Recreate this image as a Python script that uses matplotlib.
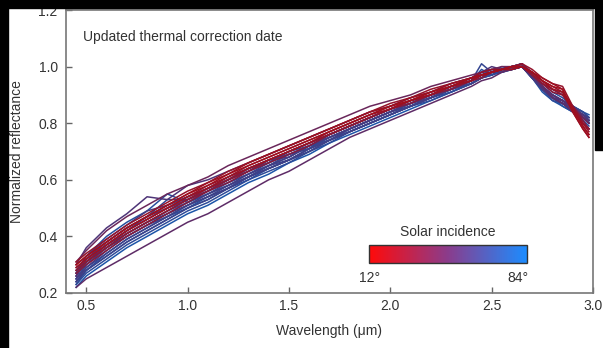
import numpy as np
import matplotlib
matplotlib.use("Agg")
import matplotlib.pyplot as plt
from matplotlib.colors import LinearSegmentedColormap, Normalize
from matplotlib.cm import ScalarMappable
from matplotlib.patches import Rectangle

plt.rcParams['font.family'] = ['Liberation Sans', 'DejaVu Sans']

# wavelength grid (um)
wavelength = [0.45, 0.5, 0.6, 0.7, 0.8, 0.9, 1.0, 1.1, 1.2, 1.3, 1.4, 1.5, 1.6, 1.7, 1.8, 1.9,
              2.0, 2.1, 2.2, 2.3, 2.4, 2.45, 2.5, 2.55, 2.6, 2.65, 2.7, 2.75, 2.8, 2.85, 2.9, 2.95, 2.98]

# normalized spectra, one per solar incidence angle
s12 = [0.30, 0.33, 0.38, 0.43, 0.47, 0.51, 0.55, 0.58, 0.62, 0.65, 0.68, 0.71, 0.74, 0.77, 0.80, 0.83,
       0.86, 0.88, 0.91, 0.93, 0.96, 0.97, 0.98, 0.99, 1.00, 1.00, 0.98, 0.95, 0.93, 0.92, 0.85, 0.79, 0.76]
s14 = [0.30, 0.33, 0.38, 0.43, 0.47, 0.51, 0.55, 0.59, 0.62, 0.66, 0.69, 0.72, 0.75, 0.78, 0.81, 0.84,
       0.86, 0.89, 0.91, 0.94, 0.96, 0.97, 0.98, 0.99, 1.00, 1.00, 0.98, 0.96, 0.94, 0.92, 0.84, 0.78, 0.75]
s15 = [0.29, 0.32, 0.37, 0.42, 0.46, 0.50, 0.54, 0.57, 0.61, 0.64, 0.67, 0.70, 0.73, 0.77, 0.80, 0.83,
       0.85, 0.88, 0.90, 0.93, 0.95, 0.97, 0.98, 0.99, 0.99, 1.00, 0.98, 0.95, 0.92, 0.91, 0.84, 0.78, 0.75]
s18 = [0.31, 0.34, 0.39, 0.44, 0.48, 0.52, 0.56, 0.59, 0.63, 0.66, 0.69, 0.72, 0.75, 0.78, 0.81, 0.84,
       0.87, 0.89, 0.92, 0.94, 0.96, 0.98, 0.99, 0.99, 1.00, 1.01, 0.99, 0.96, 0.94, 0.93, 0.86, 0.80, 0.77]
s20 = [0.29, 0.32, 0.37, 0.42, 0.46, 0.50, 0.54, 0.58, 0.61, 0.65, 0.68, 0.71, 0.74, 0.77, 0.80, 0.83,
       0.86, 0.88, 0.91, 0.93, 0.96, 0.97, 0.98, 0.99, 1.00, 1.00, 0.98, 0.95, 0.93, 0.91, 0.85, 0.79, 0.76]
s22 = [0.28, 0.31, 0.36, 0.41, 0.45, 0.49, 0.53, 0.57, 0.60, 0.64, 0.67, 0.70, 0.73, 0.76, 0.79, 0.82,
       0.85, 0.88, 0.90, 0.93, 0.95, 0.97, 0.98, 0.99, 1.00, 1.00, 0.97, 0.94, 0.91, 0.90, 0.85, 0.80, 0.78]
s26 = [0.27, 0.30, 0.35, 0.40, 0.44, 0.48, 0.52, 0.56, 0.59, 0.63, 0.66, 0.69, 0.72, 0.76, 0.79, 0.82,
       0.85, 0.87, 0.90, 0.92, 0.95, 0.96, 0.98, 0.99, 0.99, 1.00, 0.98, 0.94, 0.92, 0.91, 0.86, 0.81, 0.78]
s30 = [0.28, 0.31, 0.36, 0.41, 0.45, 0.49, 0.53, 0.56, 0.60, 0.63, 0.67, 0.70, 0.73, 0.76, 0.79, 0.82,
       0.85, 0.88, 0.90, 0.93, 0.95, 0.97, 0.98, 0.99, 1.00, 1.00, 0.97, 0.94, 0.92, 0.90, 0.85, 0.80, 0.78]
s40 = [0.31, 0.35, 0.42, 0.47, 0.51, 0.55, 0.58, 0.61, 0.65, 0.68, 0.71, 0.74, 0.77, 0.80, 0.83, 0.86,
       0.88, 0.90, 0.93, 0.95, 0.97, 0.98, 0.99, 1.00, 1.00, 1.01, 0.98, 0.95, 0.92, 0.90, 0.86, 0.82, 0.80]
s46 = [0.22, 0.25, 0.29, 0.33, 0.37, 0.41, 0.45, 0.48, 0.52, 0.56, 0.60, 0.63, 0.67, 0.71, 0.75, 0.78,
       0.81, 0.84, 0.87, 0.90, 0.93, 0.95, 0.96, 0.98, 0.99, 1.00, 0.97, 0.93, 0.89, 0.87, 0.84, 0.80, 0.78]
s50 = [0.26, 0.31, 0.37, 0.42, 0.46, 0.50, 0.53, 0.57, 0.60, 0.64, 0.67, 0.70, 0.73, 0.76, 0.79, 0.82,
       0.85, 0.88, 0.90, 0.93, 0.95, 0.97, 0.98, 0.99, 1.00, 1.00, 0.97, 0.93, 0.90, 0.88, 0.85, 0.82, 0.80]
s55 = [0.30, 0.36, 0.43, 0.48, 0.54, 0.53, 0.58, 0.60, 0.63, 0.66, 0.69, 0.72, 0.75, 0.78, 0.81, 0.84,
       0.86, 0.89, 0.91, 0.94, 0.96, 0.98, 1.00, 0.99, 1.00, 1.01, 0.97, 0.93, 0.90, 0.88, 0.86, 0.83, 0.81]
s58 = [0.26, 0.32, 0.38, 0.43, 0.47, 0.50, 0.53, 0.56, 0.60, 0.63, 0.66, 0.70, 0.73, 0.76, 0.79, 0.82,
       0.85, 0.87, 0.90, 0.93, 0.95, 0.97, 0.99, 0.98, 1.00, 1.00, 0.96, 0.92, 0.89, 0.87, 0.85, 0.82, 0.80]
s60 = [0.27, 0.33, 0.39, 0.44, 0.49, 0.51, 0.54, 0.57, 0.61, 0.64, 0.67, 0.68, 0.72, 0.75, 0.78, 0.81,
       0.84, 0.87, 0.89, 0.92, 0.95, 0.97, 0.98, 0.99, 1.00, 1.00, 0.97, 0.93, 0.90, 0.88, 0.85, 0.83, 0.81]
s62 = [0.25, 0.29, 0.35, 0.40, 0.44, 0.48, 0.51, 0.55, 0.58, 0.62, 0.65, 0.68, 0.72, 0.75, 0.78, 0.81,
       0.84, 0.87, 0.90, 0.92, 0.95, 0.97, 0.98, 0.99, 0.99, 1.00, 0.96, 0.93, 0.89, 0.88, 0.85, 0.83, 0.81]
s64 = [0.24, 0.29, 0.34, 0.39, 0.43, 0.47, 0.51, 0.54, 0.57, 0.61, 0.64, 0.67, 0.71, 0.74, 0.77, 0.80,
       0.83, 0.86, 0.89, 0.92, 0.95, 0.97, 0.98, 0.98, 1.00, 1.00, 0.97, 0.92, 0.89, 0.87, 0.85, 0.83, 0.81]
s66 = [0.24, 0.28, 0.33, 0.38, 0.42, 0.46, 0.50, 0.53, 0.57, 0.61, 0.64, 0.67, 0.70, 0.74, 0.77, 0.80,
       0.83, 0.86, 0.89, 0.92, 0.94, 0.96, 0.98, 0.99, 1.00, 1.00, 0.97, 0.93, 0.90, 0.88, 0.86, 0.83, 0.82]
s68 = [0.25, 0.30, 0.36, 0.40, 0.44, 0.47, 0.51, 0.54, 0.58, 0.61, 0.65, 0.67, 0.71, 0.74, 0.78, 0.81,
       0.84, 0.86, 0.89, 0.92, 0.94, 0.96, 0.98, 0.99, 0.99, 1.00, 0.96, 0.92, 0.89, 0.87, 0.85, 0.83, 0.82]
s70 = [0.27, 0.31, 0.37, 0.41, 0.45, 0.49, 0.52, 0.55, 0.59, 0.62, 0.66, 0.69, 0.71, 0.75, 0.78, 0.81,
       0.84, 0.87, 0.89, 0.92, 0.95, 1.01, 0.98, 0.99, 0.99, 1.00, 0.96, 0.92, 0.89, 0.87, 0.85, 0.82, 0.80]
s72 = [0.26, 0.31, 0.37, 0.42, 0.47, 0.53, 0.53, 0.56, 0.59, 0.62, 0.65, 0.69, 0.72, 0.75, 0.78, 0.81,
       0.84, 0.86, 0.89, 0.92, 0.95, 0.98, 0.97, 0.99, 1.00, 1.01, 0.96, 0.92, 0.89, 0.88, 0.86, 0.84, 0.82]
s74 = [0.23, 0.27, 0.32, 0.37, 0.41, 0.45, 0.49, 0.52, 0.56, 0.60, 0.63, 0.66, 0.70, 0.73, 0.77, 0.80,
       0.83, 0.86, 0.88, 0.91, 0.94, 0.96, 0.97, 0.99, 1.00, 1.00, 0.96, 0.92, 0.88, 0.87, 0.85, 0.82, 0.80]
s76 = [0.23, 0.28, 0.33, 0.38, 0.42, 0.46, 0.50, 0.53, 0.57, 0.60, 0.64, 0.67, 0.70, 0.74, 0.77, 0.80,
       0.83, 0.86, 0.89, 0.91, 0.94, 0.96, 0.97, 0.99, 0.99, 1.00, 0.96, 0.92, 0.89, 0.87, 0.85, 0.82, 0.81]
s78 = [0.28, 0.33, 0.40, 0.45, 0.49, 0.55, 0.52, 0.56, 0.60, 0.63, 0.67, 0.69, 0.71, 0.76, 0.79, 0.82,
       0.85, 0.87, 0.90, 0.93, 0.95, 0.99, 0.97, 0.99, 1.00, 1.01, 0.97, 0.94, 0.91, 0.89, 0.86, 0.84, 0.82]
s80 = [0.27, 0.32, 0.38, 0.43, 0.47, 0.51, 0.54, 0.57, 0.60, 0.64, 0.66, 0.70, 0.72, 0.76, 0.79, 0.82,
       0.85, 0.88, 0.90, 0.93, 0.96, 0.98, 0.99, 0.99, 1.00, 1.01, 0.97, 0.93, 0.90, 0.88, 0.86, 0.84, 0.83]
s81 = [0.25, 0.30, 0.36, 0.41, 0.45, 0.48, 0.52, 0.55, 0.58, 0.61, 0.65, 0.68, 0.72, 0.74, 0.78, 0.81,
       0.84, 0.87, 0.90, 0.92, 0.95, 0.97, 0.98, 1.00, 0.99, 1.00, 0.96, 0.91, 0.88, 0.86, 0.84, 0.81, 0.79]
s83 = [0.24, 0.28, 0.34, 0.39, 0.43, 0.47, 0.50, 0.54, 0.57, 0.61, 0.64, 0.67, 0.71, 0.74, 0.77, 0.80,
       0.83, 0.86, 0.89, 0.92, 0.94, 0.96, 0.98, 0.98, 0.99, 1.00, 0.96, 0.92, 0.89, 0.86, 0.84, 0.82, 0.80]
s84 = [0.22, 0.26, 0.31, 0.36, 0.40, 0.44, 0.48, 0.51, 0.55, 0.59, 0.62, 0.66, 0.69, 0.73, 0.76, 0.79,
       0.82, 0.85, 0.88, 0.91, 0.94, 0.96, 0.97, 0.98, 0.99, 1.00, 0.96, 0.92, 0.89, 0.87, 0.84, 0.82, 0.81]

angles = [12, 14, 15, 18, 20, 22, 26, 30, 40, 46, 50, 55, 58, 60, 62, 64, 66, 68, 70, 72, 74, 76, 78, 80, 81, 83, 84]
spectra = [s12, s14, s15, s18, s20, s22, s26, s30, s40, s46, s50, s55, s58, s60, s62, s64, s66, s68,
           s70, s72, s74, s76, s78, s80, s81, s83, s84]

# colormaps: darker one for the lines, bright one for the colorbar
line_cmap = LinearSegmentedColormap.from_list("lines", ["#a00e1e", "#5a2e6c", "#1d55a8"])
bar_cmap = LinearSegmentedColormap.from_list("bar", ["#ff0a0a", "#8a3c8c", "#1c8cff"])
norm = Normalize(vmin=12, vmax=84)

fig = plt.figure(figsize=(6.03, 3.48), dpi=100)
fig.patch.set_facecolor("white")

# black frame on the edges of the original picture
fig.patches.append(Rectangle((0, 0), 8 / 603, 1, transform=fig.transFigure, color="black", zorder=0))
fig.patches.append(Rectangle((0, 1 - 8 / 348), 1, 8 / 348, transform=fig.transFigure, color="black", zorder=0))
fig.patches.append(Rectangle((1 - 8 / 603, 1 - 150 / 348), 8 / 603, 150 / 348, transform=fig.transFigure,
                             color="black", zorder=0))

ax = fig.add_axes([66 / 603, 55 / 348, 527 / 603, 283 / 348])

# high angles first so the red (low angle) spectra sit on top
for ang, spec in reversed(list(zip(angles, spectra))):
    ax.plot(wavelength, spec, color=line_cmap(norm(ang)), lw=1.1)

ax.set_xlim(0.4, 3.0)
ax.set_ylim(0.2, 1.2)
ax.set_xticks([0.5, 1.0, 1.5, 2.0, 2.5, 3.0])
ax.set_yticks([0.2, 0.4, 0.6, 0.8, 1.0, 1.2])
ax.xaxis.set_major_formatter(plt.FormatStrFormatter("%.1f"))
ax.yaxis.set_major_formatter(plt.FormatStrFormatter("%.1f"))
ax.tick_params(axis="x", direction="in", length=4, width=1, color="#666666", labelsize=10,
               labelcolor="#333333", pad=4)
ax.tick_params(axis="y", direction="in", length=4, width=1, color="#666666", labelsize=10,
               labelcolor="#333333", pad=6)
for sp in ax.spines.values():
    sp.set_color("#777777")
    sp.set_linewidth(1.2)

ax.set_xlabel("Wavelength (\u03bcm)", fontsize=10, color="#333333", labelpad=8)
ax.set_ylabel("Normalized reflectance", fontsize=10, color="#333333", labelpad=10)
ax.text(0.032, 0.905, "Updated thermal correction date", transform=ax.transAxes,
        fontsize=10, color="#333333", va="center", ha="left")

# colorbar for solar incidence
cax = fig.add_axes([369 / 603, 85 / 348, 158 / 603, 18 / 348])
cb = fig.colorbar(ScalarMappable(norm=norm, cmap=bar_cmap), cax=cax, orientation="horizontal")
cb.set_ticks([])
cb.outline.set_edgecolor("#333333")
cb.outline.set_linewidth(1.0)
fig.text(448 / 603, 1 - 232 / 348, "Solar incidence", ha="center", va="center", fontsize=10, color="#333333")
fig.text(370 / 603, 1 - 278 / 348, "12\u00b0", ha="center", va="center", fontsize=10, color="#333333")
fig.text(518 / 603, 1 - 278 / 348, "84\u00b0", ha="center", va="center", fontsize=10, color="#333333")

fig.savefig("out.png", dpi=100, facecolor=fig.get_facecolor())
